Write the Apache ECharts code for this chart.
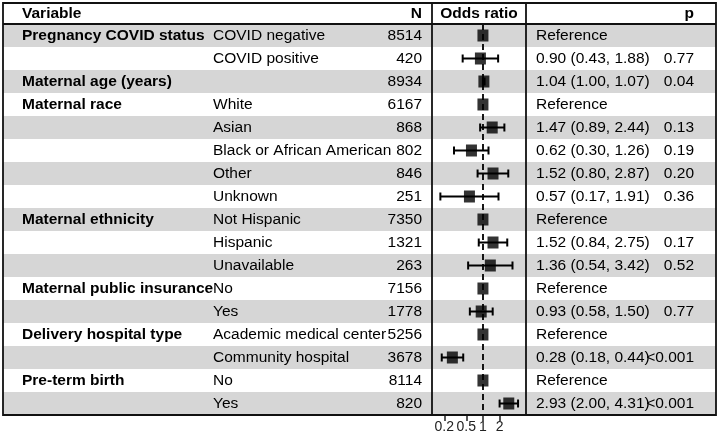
<!DOCTYPE html>
<html>
<head>
<meta charset="utf-8">
<script src="https://cdn.jsdelivr.net/npm/echarts@6/dist/echarts.min.js"></script>
<style>
    html, body { margin: 0; padding: 0; background: #fff; }
    #container { width: 720px; height: 438px; }
</style>
</head>
<body>
<div id="container"></div>
<script>
// table rows, top to bottom
var groups = ['Pregnancy COVID status', '', 'Maternal age (years)', 'Maternal race', '', '', '', '',
    'Maternal ethnicity', '', '', 'Maternal public insurance', '', 'Delivery hospital type', '',
    'Pre-term birth', ''];
var levels = ['COVID negative', 'COVID positive', '', 'White', 'Asian', 'Black or African American',
    'Other', 'Unknown', 'Not Hispanic', 'Hispanic', 'Unavailable', 'No', 'Yes',
    'Academic medical center', 'Community hospital', 'No', 'Yes'];
var counts = [8514, 420, 8934, 6167, 868, 802, 846, 251, 7350, 1321, 263, 7156, 1778, 5256, 3678, 8114, 820];
var oddsRatio = [1, 0.90, 1.04, 1, 1.47, 0.62, 1.52, 0.57, 1, 1.52, 1.36, 1, 0.93, 1, 0.28, 1, 2.93];
var ciLow = [null, 0.43, 1.00, null, 0.89, 0.30, 0.80, 0.17, null, 0.84, 0.54, null, 0.58, null, 0.18, null, 2.00];
var ciHigh = [null, 1.88, 1.07, null, 2.44, 1.26, 2.87, 1.91, null, 2.75, 3.42, null, 1.50, null, 0.44, null, 4.31];
var pValues = ['', '0.77', '0.04', '', '0.13', '0.19', '0.20', '0.36', '', '0.17', '0.52', '', '0.77', '',
    '<0.001', '', '<0.001'];
var tickValues = [0.2, 0.5, 1, 2];

(function(){
    var dom = document.getElementById("container");
    var myChart = echarts.init(dom);

    var font = '"Liberation Sans", Arial, sans-serif';
    var fontSize = 15.5;
    // frame of the table
    var left = 3, top = 3, right = 716, bottom = 415, headBottom = 24;
    var colA = 432, colB = 526;   // borders of the odds ratio column

    var rowIdx = [];
    for (var i = 0; i < counts.length; i++) rowIdx.push(i);

    function fmt(v) { return v.toFixed(2); }
    function estText(i) {
        if (ciLow[i] === null) return 'Reference';
        return fmt(oddsRatio[i]) + ' (' + fmt(ciLow[i]) + ', ' + fmt(ciHigh[i]) + ')';
    }

    var squares = [], bars = [], textRows = [];
    for (var i = 0; i < counts.length; i++) {
        squares.push([Math.log(oddsRatio[i]), i]);
        if (ciLow[i] !== null) bars.push([Math.log(ciLow[i]), i, Math.log(ciHigh[i])]);
        textRows.push([0, i]);
    }

    function txt(x, y, s, align, bold) {
        return {
            type: 'text', x: x, y: y,
            style: {
                text: s, fill: '#000', font: (bold ? 'bold ' : '') + fontSize + 'px ' + font,
                align: align, verticalAlign: 'middle'
            }
        };
    }

    function renderRow(params, api) {
        var i = api.value(1);
        var p = api.coord([0, i]);
        var x0 = p[0], y = p[1];
        return {
            type: 'group',
            children: [
                txt(x0 + 19, y, groups[i], 'left', true),
                txt(x0 + 210, y, levels[i], 'left', false),
                txt(x0 + 419, y, String(counts[i]), 'right', false),
                txt(x0 + 533, y, estText(i), 'left', false),
                txt(x0 + 691, y, pValues[i], 'right', false)
            ]
        };
    }

    function renderBar(params, api) {
        var a = api.coord([api.value(0), api.value(1)]);
        var b = api.coord([api.value(2), api.value(1)]);
        var h = 4;
        var st = { stroke: '#000', lineWidth: 2 };
        return {
            type: 'group',
            children: [
                { type: 'line', shape: { x1: a[0], y1: a[1], x2: b[0], y2: b[1] }, style: st },
                { type: 'line', shape: { x1: a[0], y1: a[1] - h, x2: a[0], y2: a[1] + h }, style: st },
                { type: 'line', shape: { x1: b[0], y1: b[1] - h, x2: b[0], y2: b[1] + h }, style: st }
            ]
        };
    }

    var frame = { stroke: '#111', lineWidth: 1.8 };

    option = {
        animation: false,
        backgroundColor: '#fff',
        grid: [
            { left: left, top: headBottom, width: right - left, height: bottom - headBottom },
            { left: colA, top: headBottom, width: colB - colA, height: bottom - headBottom }
        ],
        xAxis: [
            { gridIndex: 0, type: 'value', min: 0, max: right - left, show: false },
            {
                gridIndex: 1, type: 'value',
                min: Math.log(0.12), max: Math.log(6.0),
                splitLine: { show: false },
                axisLine: { show: false },
                axisTick: {
                    show: true, length: 6, lineStyle: { color: '#222', width: 1.5 },
                    customValues: tickValues.map(function(v){ return Math.log(v); })
                },
                axisLabel: {
                    show: true, margin: 5, color: '#222', fontSize: 14, fontFamily: font,
                    customValues: tickValues.map(function(v){ return Math.log(v); }),
                    formatter: function(v){
                        var best = tickValues[0];
                        for (var k = 0; k < tickValues.length; k++) {
                            if (Math.abs(Math.log(tickValues[k]) - v) < Math.abs(Math.log(best) - v)) best = tickValues[k];
                        }
                        return String(best);
                    }
                }
            }
        ],
        yAxis: [
            {
                gridIndex: 0, type: 'category', inverse: true, data: rowIdx,
                axisLine: { show: false }, axisTick: { show: false }, axisLabel: { show: false },
                splitLine: { show: false },
                splitArea: { show: true, areaStyle: { color: ['#d6d6d6', '#ffffff'] } }
            },
            {
                gridIndex: 1, type: 'category', inverse: true, data: rowIdx,
                axisLine: { show: false }, axisTick: { show: false }, axisLabel: { show: false },
                splitLine: { show: false }
            }
        ],
        series: [
            {
                type: 'custom', xAxisIndex: 0, yAxisIndex: 0,
                renderItem: renderRow, data: textRows, silent: true, z: 3
            },
            {
                type: 'custom', xAxisIndex: 1, yAxisIndex: 1,
                renderItem: renderBar, data: bars, encode: { x: [0, 2], y: 1 },
                silent: true, z: 4
            },
            {
                type: 'scatter', xAxisIndex: 1, yAxisIndex: 1,
                data: squares, symbol: 'rect', symbolSize: [11, 12],
                itemStyle: { color: '#000' }, silent: true, z: 5,
                markLine: {
                    silent: true, symbol: ['none', 'none'],
                    label: { show: false },
                    lineStyle: { color: '#000', width: 1.8, type: [6, 4] },
                    data: [{ xAxis: 0 }]
                }
            }
        ],
        graphic: [
            { type: 'rect', z: 100, shape: { x: left, y: top, width: right - left, height: bottom - top },
              style: { fill: 'none', stroke: '#111', lineWidth: 1.8 } },
            { type: 'line', z: 100, shape: { x1: left, y1: headBottom, x2: right, y2: headBottom }, style: frame },
            { type: 'line', z: 100, shape: { x1: colA, y1: top, x2: colA, y2: bottom }, style: frame },
            { type: 'line', z: 100, shape: { x1: colB, y1: top, x2: colB, y2: bottom }, style: frame },
            txt(22, 14, 'Variable', 'left', true),
            txt(422, 14, 'N', 'right', true),
            txt(479, 14, 'Odds ratio', 'center', true),
            txt(694, 14, 'p', 'right', true)
        ]
    };

    if (option && typeof option === "object") {
        myChart.setOption(option, true);
    }
}())
</script>
</body>
</html>
